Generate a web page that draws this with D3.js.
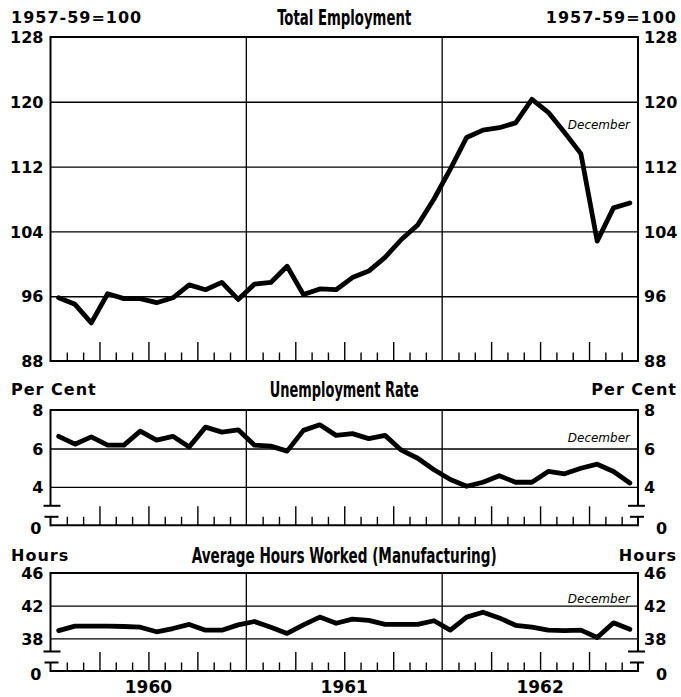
<!DOCTYPE html>
<html>
<head>
<meta charset="utf-8">
<script src="https://cdn.jsdelivr.net/npm/d3@7/dist/d3.min.js"></script>
<style>
  html, body { margin: 0; padding: 0; background: #fff; }
  svg { display: block; }
  .tick-lbl { font-family: "DejaVu Sans", sans-serif; font-weight: bold; font-size: 16px; fill: #000; }
  .unit-lbl { font-family: "DejaVu Sans", sans-serif; font-weight: bold; font-size: 16px; fill: #000; }
  .title-lbl { font-family: "Liberation Sans Narrow", "DejaVu Sans Condensed", sans-serif; font-weight: bold; font-size: 21px; fill: #000; }
  .dec-lbl { font-family: "DejaVu Sans", sans-serif; font-style: italic; font-size: 12px; fill: #000; }
  .year-lbl { font-family: "DejaVu Sans", sans-serif; font-weight: bold; font-size: 17px; fill: #000; }
</style>
</head>
<body>
<svg id="chart" width="681" height="697"></svg>
<script>
// ---------------- data ----------------
const years = ["1960", "1961", "1962"];
const monthsPerYear = 12;

const employment = [95.8, 95.0, 92.7, 96.3, 95.7, 95.7, 95.2, 95.8, 97.4, 96.8, 97.7, 95.6,
                    97.5, 97.7, 99.7, 96.2, 96.9, 96.8, 98.3, 99.1, 100.8, 103.0, 104.8, 108.0,
                    111.7, 115.6, 116.5, 116.8, 117.4, 120.3, 118.7, 116.2, 113.6, 102.8, 106.9, 107.5];
const unemployment = [6.63, 6.22, 6.6, 6.17, 6.17, 6.9, 6.43, 6.63, 6.08, 7.11, 6.85, 6.97,
                      6.17, 6.12, 5.86, 6.94, 7.23, 6.68, 6.77, 6.51, 6.68, 5.91, 5.49, 4.89,
                      4.38, 4.03, 4.24, 4.58, 4.24, 4.24, 4.8, 4.68, 4.97, 5.18, 4.8, 4.2];
const hours = [38.95, 39.5, 39.5, 39.5, 39.45, 39.36, 38.8, 39.2, 39.7, 39.0, 39.0, 39.65,
               40.06, 39.36, 38.6, 39.65, 40.6, 39.85, 40.35, 40.2, 39.7, 39.7, 39.7, 40.15,
               39.0, 40.6, 41.2, 40.5, 39.6, 39.36, 39.0, 38.95, 39.0, 38.1, 39.9, 39.1];

const empTicks = [88, 96, 104, 112, 120, 128];
const unempTicks = [4, 6, 8];
const hoursTicks = [38, 42, 46];
const brokenBaseLabel = "0";

const titles = ["Total Employment", "Unemployment Rate", "Average Hours Worked (Manufacturing)"];
const units = ["1957-59=100", "Per Cent", "Hours"];
const noteLabel = "December";

// ---------------- layout ----------------
const X0 = 50.5, X1 = 638;
const nMonths = years.length * monthsPerYear;
const x = d3.scaleLinear().domain([0, nMonths]).range([X0, X1]);
const fmt = d3.format("d");

const panels = [
  { data: employment, ticks: empTicks, domain: [88, 128], range: [361, 37], broken: false,
    title: titles[0], unit: units[0], textY: 17, titleW: 134, noteY: 125, showYears: false },
  { data: unemployment, ticks: unempTicks, domain: [2, 8], range: [525.3, 410], broken: true,
    title: titles[1], unit: units[1], textY: 389, titleW: 149, noteY: 438, showYears: false },
  { data: hours, ticks: hoursTicks, domain: [34, 46], range: [671, 573], broken: true,
    title: titles[2], unit: units[2], textY: 555, titleW: 305, noteY: 599, showYears: true }
];

const svg = d3.select("#chart");

panels.forEach(p => {
  const y = d3.scaleLinear().domain(p.domain).range(p.range);
  const g = svg.append("g");
  const yTop = y(p.domain[1]);
  const yBase = y(p.domain[0]);

  // horizontal grid lines (via axis)
  const gridVals = p.ticks.filter(t => t !== p.domain[0] && t !== p.domain[1]);
  const grid = g.append("g")
    .attr("transform", `translate(${X0},0)`)
    .call(d3.axisRight(y).tickValues(gridVals).tickSize(X1 - X0).tickFormat(""));
  grid.select(".domain").remove();
  grid.selectAll(".tick line").attr("stroke", "#000").attr("stroke-width", 1.4);

  // year separators (full-height vertical lines)
  const yearBounds = d3.range(1, years.length).map(k => k * monthsPerYear);
  g.selectAll("line.yr").data(yearBounds).join("line")
    .attr("x1", d => x(d)).attr("x2", d => x(d))
    .attr("y1", yTop).attr("y2", yBase)
    .attr("stroke", "#000").attr("stroke-width", 1.3);

  // month ticks pointing up from the base
  const monthBounds = d3.range(1, nMonths).filter(k => k % monthsPerYear !== 0);
  const small = monthBounds.filter(k => k % 3 !== 0);
  const tall = monthBounds.filter(k => k % 3 === 0);
  [[small, 8.5], [tall, 19]].forEach(([vals, len]) => {
    const ax = g.append("g").attr("transform", `translate(0,${yBase})`)
      .call(d3.axisTop(x).tickValues(vals).tickSize(len).tickFormat(""));
    ax.select(".domain").remove();
    ax.selectAll(".tick line").attr("stroke", "#000").attr("stroke-width", 1.4);
  });

  // frame: top and base
  g.append("line").attr("x1", X0).attr("x2", X1).attr("y1", yTop).attr("y2", yTop)
    .attr("stroke", "#000").attr("stroke-width", 2);
  g.append("line").attr("x1", X0).attr("x2", X1).attr("y1", yBase).attr("y2", yBase)
    .attr("stroke", "#000").attr("stroke-width", 2);

  // side axes
  const sides = [X0, X1];
  if (!p.broken) {
    sides.forEach(sx => g.append("line").attr("x1", sx).attr("x2", sx)
      .attr("y1", yTop - 1).attr("y2", yBase + 1).attr("stroke", "#000").attr("stroke-width", 2));
  } else {
    const bUp = yBase - 19.5, bLo = yBase - 8.5;
    sides.forEach((sx, i) => {
      g.append("line").attr("x1", sx).attr("x2", sx).attr("y1", yTop - 1).attr("y2", bUp)
        .attr("stroke", "#000").attr("stroke-width", 2);
      g.append("line").attr("x1", sx).attr("x2", sx).attr("y1", bLo).attr("y2", yBase + 1)
        .attr("stroke", "#000").attr("stroke-width", 2);
      const dir = i === 0 ? 1 : -1;
      g.append("line").attr("x1", sx - 7 * dir).attr("x2", sx + 10 * dir)
        .attr("y1", bUp).attr("y2", bUp).attr("stroke", "#000").attr("stroke-width", 2);
      g.append("line").attr("x1", sx - 6 * dir).attr("x2", sx + 8 * dir)
        .attr("y1", bLo).attr("y2", bLo).attr("stroke", "#000").attr("stroke-width", 2);
    });
  }

  // tick labels (left and right) via axes
  const la = g.append("g").attr("transform", `translate(${X0 - 7},0)`)
    .call(d3.axisLeft(y).tickValues(p.ticks).tickFormat(fmt).tickSize(0).tickPadding(0));
  la.select(".domain").remove();
  la.selectAll("text").attr("class", "tick-lbl").attr("dy", "0.36em").style("font", null);
  const ra = g.append("g").attr("transform", `translate(${X1 + 6},0)`)
    .call(d3.axisRight(y).tickValues(p.ticks).tickFormat(fmt).tickSize(0).tickPadding(0));
  ra.select(".domain").remove();
  ra.selectAll("text").attr("class", "tick-lbl").attr("dy", "0.36em").style("font", null);

  if (p.broken) {
    g.append("text").attr("class", "tick-lbl").attr("x", X0 - 9).attr("y", yBase + 3)
      .attr("dy", "0.36em").attr("text-anchor", "end").text(brokenBaseLabel);
    g.append("text").attr("class", "tick-lbl").attr("x", X1 + 18).attr("y", yBase + 3)
      .attr("dy", "0.36em").attr("text-anchor", "start").text(brokenBaseLabel);
  }

  // data line
  const line = d3.line().x((d, i) => x(i + 0.5)).y(d => y(d));
  g.append("path").datum(p.data).attr("d", line)
    .attr("fill", "none").attr("stroke", "#000").attr("stroke-width", 4.8)
    .attr("stroke-linejoin", "round").attr("stroke-linecap", "round");

  // header texts
  g.append("text").attr("class", "unit-lbl").attr("x", 11).attr("y", p.textY)
    .attr("dy", "0.36em").attr("text-anchor", "start").style("letter-spacing", "1px").text(p.unit);
  g.append("text").attr("class", "unit-lbl").attr("x", 677).attr("y", p.textY)
    .attr("dy", "0.36em").attr("text-anchor", "end").style("letter-spacing", "1px").text(p.unit);
  g.append("text").attr("class", "title-lbl").attr("x", (X0 + X1) / 2).attr("y", p.textY)
    .attr("dy", "0.36em").attr("text-anchor", "middle")
    .attr("textLength", p.titleW).attr("lengthAdjust", "spacingAndGlyphs").text(p.title);

  // December note
  g.append("text").attr("class", "dec-lbl").attr("x", X1 - 8).attr("y", p.noteY)
    .attr("dy", "0.36em").attr("text-anchor", "end").text(noteLabel);

  if (p.showYears) {
    g.selectAll("text.yl").data(years).join("text")
      .attr("class", "year-lbl")
      .attr("x", (d, i) => x(i * monthsPerYear + monthsPerYear / 2))
      .attr("y", 687).attr("dy", "0.36em").attr("text-anchor", "middle").text(d => d);
  }
});
</script>
</body>
</html>
